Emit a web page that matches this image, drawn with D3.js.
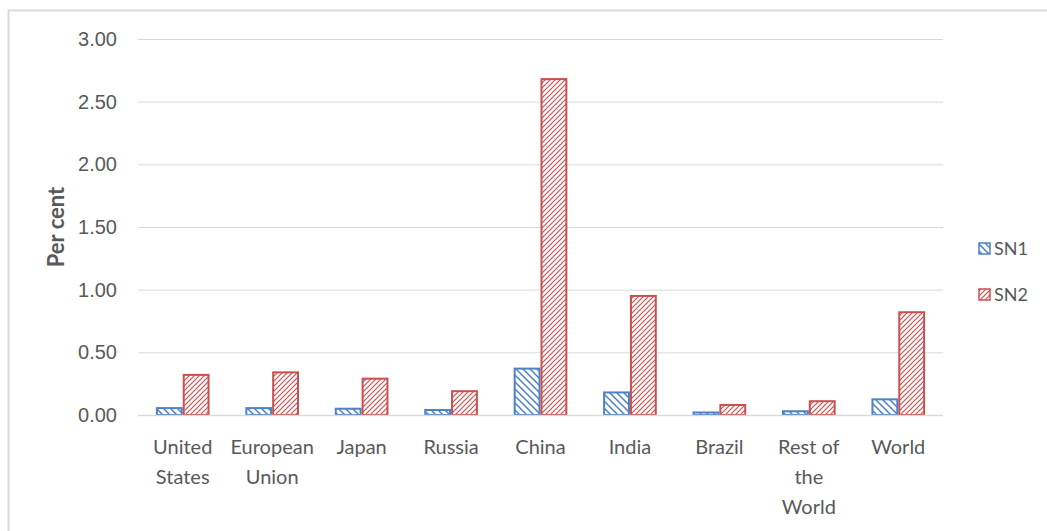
<!DOCTYPE html>
<html><head><meta charset="utf-8">
<script src="https://cdn.jsdelivr.net/npm/d3@7"></script>
<style>body{margin:0;background:#fff;}svg{display:block;font-family:Lato,"Open Sans",sans-serif;}</style>
</head><body>
<svg id="c" width="1047" height="531"></svg>
<script>
const categories = [["United","States"],["European","Union"],["Japan"],["Russia"],["China"],["India"],["Brazil"],["Rest of","the","World"],["World"]];
const seriesNames = ["SN1","SN2"];
const sn1 = [0.055,0.055,0.05,0.04,0.37,0.18,0.02,0.03,0.125];
const sn2 = [0.32,0.34,0.29,0.19,2.68,0.95,0.08,0.11,0.82];
const yTicks = [0,0.5,1,1.5,2,2.5,3];

const svg = d3.select("#c");
const colors = ["#4F81C6","#C9504F"];
const defs = svg.append("defs");
const p1 = defs.append("pattern").attr("id","p0").attr("patternUnits","userSpaceOnUse").attr("width",7).attr("height",7);
p1.append("rect").attr("width",7).attr("height",7).attr("fill","#fff");
p1.append("path").attr("d","M-1,-1 L8,8 M-4.5,2.5 L0.5,7.5 M2.5,-4.5 L7.5,0.5").attr("stroke",colors[0]).attr("stroke-width",1.5);
const p2 = defs.append("pattern").attr("id","p1").attr("patternUnits","userSpaceOnUse").attr("width",5).attr("height",5);
p2.append("rect").attr("width",5).attr("height",5).attr("fill","#fff");
p2.append("path").attr("d","M-1,6 L6,-1 M-3.5,3.5 L3.5,-3.5 M1.5,8.5 L8.5,1.5").attr("stroke",colors[1]).attr("stroke-width",1.2);

svg.append("rect").attr("x",8.5).attr("y",10.5).attr("width",1060).attr("height",540).attr("fill","none").attr("stroke","#d9d9d9").attr("stroke-width",2);

const x0 = 138, x1 = 943, yTop = 39, yBot = 415;
const y = d3.scaleLinear().domain([0,3]).range([yBot,yTop]);
const xb = d3.scaleBand().domain(d3.range(categories.length)).range([x0,x1]).paddingInner(0.4).paddingOuter(0.2);
const xs = d3.scaleBand().domain([0,1]).range([0,xb.bandwidth()]);

const gy = svg.append("g").attr("transform",`translate(${x0},0)`)
  .call(d3.axisLeft(y).tickValues(yTicks).tickSize(-(x1-x0)).tickFormat(d3.format(".2f")).tickPadding(21));
gy.select(".domain").remove();
gy.selectAll(".tick line").attr("stroke","#d9d9d9").attr("stroke-width",1);
gy.selectAll(".tick text").attr("fill","#595959").attr("font-size",20);

const series = [sn1,sn2];
series.forEach((vals,si)=>{
  svg.append("g").selectAll("rect").data(vals).join("rect")
    .attr("x",(d,i)=>xb(i)+xs(si)+1)
    .attr("y",d=>y(d))
    .attr("width",xs.bandwidth()-2)
    .attr("height",d=>Math.max(0,yBot-y(d)))
    .attr("fill",`url(#p${si})`)
    .attr("stroke",colors[si]).attr("stroke-width",2);
});

svg.append("line").attr("x1",x0).attr("x2",x1).attr("y1",yBot+0.5).attr("y2",yBot+0.5).attr("stroke","#d9d9d9").attr("stroke-width",1.5);

const xa = svg.append("g");
categories.forEach((lines,i)=>{
  const t = xa.append("text").attr("text-anchor","middle").attr("fill","#595959").attr("font-size",20);
  lines.forEach((l,j)=>t.append("tspan").attr("x",xb(i)+xb.bandwidth()/2).attr("y",454+j*30).text(l));
});

svg.append("text").attr("transform","translate(64,227) rotate(-90)").attr("text-anchor","middle")
  .attr("fill","#595959").attr("font-size",22).attr("font-weight","bold").text("Per cent");

const lg = svg.append("g");
seriesNames.forEach((n,i)=>{
  const ly = 249 + i*46;
  lg.append("rect").attr("x",979).attr("y",ly-6).attr("width",11).attr("height",11)
    .attr("fill",`url(#p${i})`).attr("stroke",colors[i]).attr("stroke-width",1.5);
  lg.append("text").attr("x",994).attr("y",ly+6).attr("fill","#595959").attr("font-size",18).text(n);
});
</script>
</body></html>
